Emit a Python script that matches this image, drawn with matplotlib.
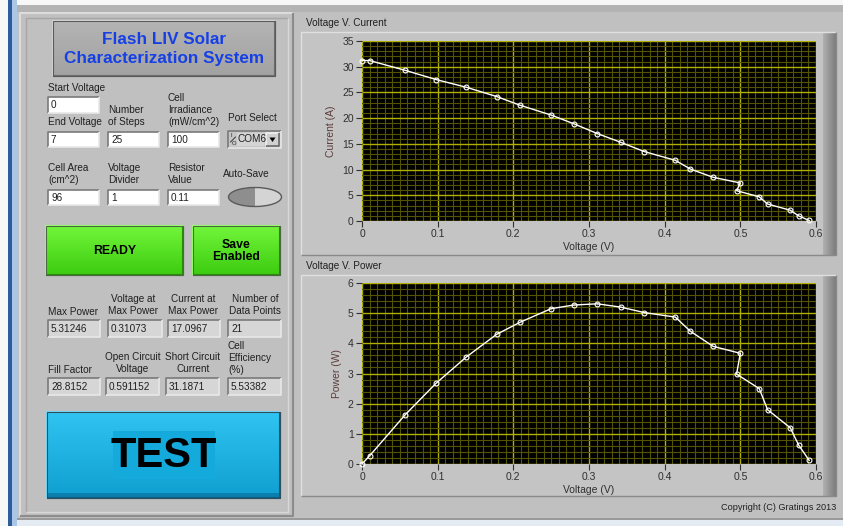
import numpy as np
import matplotlib
matplotlib.use("Agg")
import matplotlib.pyplot as plt
from matplotlib.patches import Rectangle, Ellipse, Polygon
from matplotlib.ticker import MultipleLocator

plt.rcParams['font.family'] = ['Liberation Sans', 'DejaVu Sans']

# -- Data ---------------------------------------------------------------------
voltage = [0.000, 0.010, 0.057, 0.098, 0.138, 0.178, 0.209, 0.250, 0.280, 0.311, 0.342,
           0.373, 0.414, 0.434, 0.464, 0.500, 0.495, 0.525, 0.536, 0.566, 0.577, 0.591]
current = [31.2, 31.2, 29.3, 27.5, 26.0, 24.2, 22.5, 20.6, 18.9, 17.0, 15.3,
           13.5, 11.8, 10.1, 8.5, 7.4, 5.9, 4.7, 3.3, 2.1, 1.0, 0.1]
power = [0.00, 0.27, 1.63, 2.68, 3.55, 4.30, 4.70, 5.15, 5.27, 5.31, 5.20,
         5.02, 4.87, 4.40, 3.90, 3.67, 2.98, 2.50, 1.80, 1.20, 0.63, 0.12]

input_labels = ["Start Voltage", "End Voltage", "Number\nof Steps", "Cell\nIrradiance\n(mW/cm^2)",
                "Cell Area\n(cm^2)", "Voltage\nDivider", "Resistor\nValue"]
input_values = ["0", "7", "25", "100", "96", "1", "0.11"]
output_labels = ["Max Power", "Voltage at\nMax Power", "Current at\nMax Power", "Number of\nData Points",
                 "Fill Factor", "Open Circuit\nVoltage", "Short Circuit\nCurrent", "Cell\nEfficiency\n(%)"]
output_values = ["5.31246", "0.31073", "17.0967", "21", "28.8152", "0.591152", "31.1871", "5.53382"]

W, H = 843, 526
BG = "#c0c0c0"
fig = plt.figure(figsize=(W / 100, H / 100), dpi=100, facecolor=BG)
bg = fig.add_axes([0, 0, 1, 1])
bg.axis("off")


def rect(x0, y0, x1, y1, fc, ec="none", lw=0, z=1):
    bg.add_patch(Rectangle((x0, y0), x1 - x0, y1 - y0, fc=fc, ec=ec, lw=lw, zorder=z))


def grad(x0, y0, x1, y1, c0, c1, vertical=True, z=2):
    c0 = np.array(matplotlib.colors.to_rgb(c0))
    c1 = np.array(matplotlib.colors.to_rgb(c1))
    t = np.linspace(0, 1, 64)
    arr = c0[None, :] * (1 - t[:, None]) + c1[None, :] * t[:, None]
    arr = arr[:, None, :] if vertical else arr[None, :, :]
    bg.imshow(arr, extent=(x0, x1, y1, y0), aspect="auto", zorder=z, interpolation="bilinear")


def bevel(x0, y0, x1, y1, light, dark, lw=1.2, z=3):
    bg.plot([x0, x0, x1], [y1, y0, y0], color=light, lw=lw, zorder=z, solid_capstyle="butt")
    bg.plot([x0, x1, x1], [y1, y1, y0], color=dark, lw=lw, zorder=z, solid_capstyle="butt")


def txt(x, y, s, size=7.2, ha="left", va="center", z=6, **kw):
    bg.text(x, y, s, fontsize=size, ha=ha, va=va, zorder=z, color=kw.pop("color", "#202020"),
            linespacing=kw.pop("ls", 1.22), **kw)


# -- Window frame ---------------------------------------------------------------
rect(0, 0, W, 5, "#f7f7f7")
rect(0, 5, W, 12, "#b3b3b3")
rect(0, 0, 8, H, "#f7f7f7", z=2)
rect(8, 0, 12, H, "#2d5d9c", z=2)
rect(12, 0, 17, H, "#aac8e6", z=2)
rect(17, 518, W, 520, "#9a9a9a")
rect(17, 520, W, H, "#e4ebf2")

# left panel box
bevel(20, 13, 293, 516, "#dcdcdc", "#8c8c8c", lw=1.5)
bevel(26, 18, 288, 512, "#a6a6a6", "#d8d8d8", lw=1.0)

# title box
grad(53, 21, 275, 76, "#b4b4b4", "#a2a2a2")
bevel(53, 21, 275, 76, "#d6d6d6", "#6e6e6e", lw=1.5)
bg.add_patch(Rectangle((53, 21), 222, 55, fc="none", ec="#5a5a5a", lw=0.8, zorder=4))
txt(164, 40, "Flash LIV Solar", size=12.3, ha="center", color="#1640e6", fontweight="bold")
txt(164, 59, "Characterization System", size=12.3, ha="center", color="#1640e6", fontweight="bold")


def entry(x0, y0, x1, y1, val, fc="white"):
    rect(x0, y0, x1, y1, fc, z=3)
    bevel(x0, y0, x1, y1, "#7a7a7a", "#e8e8e8", lw=1.2, z=4)
    txt(x0 + 3, (y0 + y1) / 2 + 0.5, val, size=7.2)


# inputs: (label x, label y of last line, box)
in_pos = [(48, 88, (48, 97, 99, 113)),
          (48, 122, (48, 132, 99, 147)),
          (108, 122, (108, 132, 159, 147)),
          (168, 122, (168, 132, 219, 147)),
          (48, 180, (48, 190, 99, 205)),
          (108, 180, (108, 190, 159, 205)),
          (168, 180, (168, 190, 219, 205))]
for lab, val, (lx, ly, box) in zip(input_labels, input_values, in_pos):
    txt(lx, ly + 5, lab, va="bottom")
    entry(*box, val)

# port select combo
txt(228, 118, "Port Select")
rect(228, 131, 281, 148, "#c6c6c6", z=3)
bevel(228, 131, 281, 148, "#7a7a7a", "#e6e6e6", z=4)
rect(237, 133, 264, 146, "#d4d4d4", z=3)
txt(231.5, 135.5, "I", size=4.2, ha="center", ls=1.0)
txt(234, 143.5, "O", size=4.2, ha="center", ls=1.0)
bg.plot([230.5, 235.5], [142, 137], color="#202020", lw=0.6, zorder=6)
txt(238, 139.5, "COM6", size=7.2)
rect(266, 133, 279, 146, "#d0d0d0", z=4)
bevel(266, 133, 279, 146, "#f0f0f0", "#6a6a6a", z=5)
bg.add_patch(Polygon([[269.5, 137.5], [275.5, 137.5], [272.5, 142]], closed=True, fc="black", zorder=6))

# auto-save switch
txt(223, 174, "Auto-Save")
bg.add_patch(Ellipse((255, 197), 53, 19, fc="#d4d4d4", ec="none", zorder=4))
th = np.linspace(np.pi / 2, 3 * np.pi / 2, 40)
half = np.column_stack([255 + 26.5 * np.cos(th), 197 + 9.5 * np.sin(th)])
bg.add_patch(Polygon(half, closed=True, fc="#8e8e8e", ec="none", zorder=5))
bg.add_patch(Ellipse((255, 197), 53, 19, fc="none", ec="#5a5a5a", lw=1.0, zorder=6))

# green buttons
for x0, x1, label in [(46, 183, "READY"), (193, 280, "Save\nEnabled")]:
    grad(x0, 226, x1, 275, "#72f53a", "#3ccc10")
    bevel(x0, 226, x1, 275, "#9cff70", "#2a8a0a", lw=1.5)
    bg.add_patch(Rectangle((x0, 226), x1 - x0, 49, fc="none", ec="#4a6a40", lw=0.8, zorder=4))
    txt((x0 + x1) / 2, 251, label, size=8.8, ha="center", fontweight="bold", color="black", ls=1.1)

# outputs
out_pos = [(48, 312, "left", (48, 320, 100, 337)),
           (133, 311, "center", (108, 320, 162, 337)),
           (193, 311, "center", (168, 320, 220, 337)),
           (255, 311, "center", (228, 320, 281, 337)),
           (48, 370, "left", (48, 378, 100, 395)),
           (133, 369, "center", (106, 378, 159, 395)),
           (193, 369, "center", (166, 378, 219, 395)),
           (228, 370, "left", (228, 378, 281, 395))]
for lab, val, (lx, ly, ha, box) in zip(output_labels, output_values, out_pos):
    txt(lx, ly + 5, lab, ha=ha, va="bottom", multialignment=ha)
    entry(*box, val, fc="#d6d6d6")

# TEST button
grad(47, 412, 280, 498, "#30c4f2", "#0f9fd0")
rect(47, 493, 280, 498, "#0b7fad", z=3)
bevel(47, 412, 280, 498, "#7ad8f8", "#0a5f82", lw=1.5)
bg.add_patch(Rectangle((47, 412), 233, 86, fc="none", ec="#2f4f5f", lw=0.8, zorder=4))
rect(113, 431, 215, 479, "#14aadc", z=4)
txt(164, 456, "TEST", size=30, ha="center", fontweight="bold", color="black")

# -- Graph frames ---------------------------------------------------------------
for top, bot, title in [(32, 255, "Voltage V. Current"), (275, 496, "Voltage V. Power")]:
    txt(306, top - 9, title, size=7.2)
    rect(301, top, 823, bot, "#c4c4c4", z=1)
    grad(823, top, 836, bot, "#b0b0b0", "#7c7c7c", vertical=False, z=2)
    bevel(301, top, 836, bot, "#e0e0e0", "#8a8a8a", lw=1.0)
txt(836, 508, "Copyright (C) Gratings 2013", size=6.6, ha="right")

bg.set_xlim(0, W)
bg.set_ylim(H, 0)


# -- Plots --------------------------------------------------------------------------
def px_axes(x0, y0, x1, y1):
    return fig.add_axes([x0 / W, 1 - y1 / H, (x1 - x0) / W, (y1 - y0) / H])


def style(ax, ymax, ymaj, ymin, ylabel):
    ax.set_facecolor("black")
    ax.set_xlim(0, 0.6)
    ax.set_ylim(0, ymax)
    ax.xaxis.set_major_locator(MultipleLocator(0.1))
    ax.xaxis.set_minor_locator(MultipleLocator(0.01))
    ax.yaxis.set_major_locator(MultipleLocator(ymaj))
    ax.yaxis.set_minor_locator(MultipleLocator(ymin))
    ax.grid(which="minor", color="#545400", lw=0.8)
    ax.grid(which="major", color="#b0b000", lw=1.0)
    ax.set_axisbelow(True)
    for s in ax.spines.values():
        s.set_visible(False)
    ax.tick_params(which="major", direction="out", length=4, width=0.8, color="#303030",
                   labelsize=7.5, labelcolor="#303030", pad=2)
    ax.tick_params(which="minor", length=0)
    ax.xaxis.set_major_formatter(matplotlib.ticker.FuncFormatter(lambda v, p: f"{v:g}"))
    ax.set_xlabel("Voltage (V)", fontsize=7.5, color="#303030", labelpad=2)
    ax.set_ylabel(ylabel, fontsize=7.5, color="#5c3c3c", labelpad=4)


ax1 = px_axes(362, 41, 816, 221)
style(ax1, 35, 5, 1, "Current (A)")
ax1.plot(voltage, current, color="white", lw=1.0, marker="o", ms=3.5, mfc="none",
         mec="white", mew=0.8, clip_on=False)
ax1.set_xlim(0, 0.6)

ax2 = px_axes(362, 283, 816, 464)
style(ax2, 6, 1, 0.2, "Power (W)")
ax2.plot(voltage, power, color="white", lw=1.0, marker="o", ms=3.5, mfc="none",
         mec="white", mew=0.8, clip_on=False)
ax2.set_xlim(0, 0.6)

fig.savefig("out.png", dpi=100, facecolor=BG)
